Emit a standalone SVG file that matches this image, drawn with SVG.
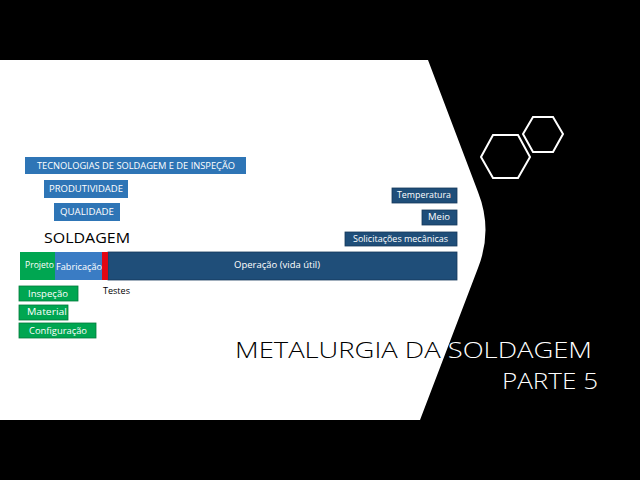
<svg xmlns="http://www.w3.org/2000/svg" width="640" height="480" viewBox="0 0 640 480">
<style>
.t{font-family:"Open Sans","Liberation Sans",Arial,sans-serif;font-size:9px;fill:#fff}
.lb{fill:#2E75B6}
.nv{fill:#1F4E79;stroke:#16395a;stroke-width:0.8}
.gr{fill:#00A651;stroke:#007a3a;stroke-width:0.8}
.hex{fill:none;stroke:#fff;stroke-width:2}
.title{font-family:"Open Sans","Liberation Sans",Arial,sans-serif;font-weight:300;font-size:22px}
</style>
<defs>
<clipPath id="cw"><path d="M0,60 L428,60 L478,192 Q493,230 478,268 L420,420 L0,420 Z"/></clipPath>
<clipPath id="cb"><path clip-rule="evenodd" d="M0,0 H640 V480 H0 Z M0,60 L428,60 L478,192 Q493,230 478,268 L420,420 L0,420 Z"/></clipPath>
</defs>
<rect x="0" y="0" width="640" height="480" fill="#000"/>
<path id="panel" d="M0,60 L428,60 L478,192 Q493,230 478,268 L420,420 L0,420 Z" fill="#fff"/>

<g id="hexagons">
<polygon class="hex" points="481,157 493,135 518,135 530,157 518,178 493,178"/>
<polygon class="hex" points="523,134 533,117 553,117 563,134 553,152 533,152"/>
</g>

<g id="tecnologias"><rect class="lb" x="25" y="157" width="221" height="17"/><text class="t" x="37" y="169" textLength="198" lengthAdjust="spacingAndGlyphs">TECNOLOGIAS DE SOLDAGEM E DE INSPEÇÃO</text></g>
<g id="produtividade"><rect class="lb" x="44" y="180" width="84" height="18"/><text class="t" x="49" y="192" textLength="74" lengthAdjust="spacingAndGlyphs">PRODUTIVIDADE</text></g>
<g id="qualidade"><rect class="lb" x="54" y="203" width="66" height="18"/><text class="t" x="60" y="215" textLength="54" lengthAdjust="spacingAndGlyphs">QUALIDADE</text></g>
<g id="soldagem"><text x="44" y="243" font-family="Open Sans,Liberation Sans,Arial,sans-serif" font-size="15" fill="#000" textLength="86" lengthAdjust="spacingAndGlyphs">SOLDAGEM</text></g>

<g id="operacao"><rect class="nv" x="108" y="252" width="349" height="28"/><text class="t" x="234" y="268" textLength="86" lengthAdjust="spacingAndGlyphs">Operação  (vida útil)</text></g>
<g id="projeto"><rect x="20" y="252" width="35" height="28" fill="#00A651"/><text class="t" x="25" y="268" textLength="29" lengthAdjust="spacingAndGlyphs">Projeto</text></g>
<g id="fabricacao"><rect x="55" y="252" width="47" height="28" fill="#3A7CC4"/><text class="t" x="56" y="270" textLength="46" lengthAdjust="spacingAndGlyphs">Fabricação</text></g>
<g id="testes-mark"><rect x="102" y="252" width="6" height="28" fill="#E30613"/></g>
<g id="testes"><text x="103" y="294" font-family="Open Sans,Liberation Sans,Arial,sans-serif" font-size="9" fill="#000" textLength="27" lengthAdjust="spacingAndGlyphs">Testes</text></g>

<g id="inspecao"><rect class="gr" x="19" y="286" width="59" height="15"/><text class="t" x="28" y="297" textLength="40" lengthAdjust="spacingAndGlyphs">Inspeção</text></g>
<g id="material"><rect class="gr" x="19" y="305" width="49" height="15"/><text class="t" x="27" y="315" textLength="40" lengthAdjust="spacingAndGlyphs">Material</text></g>
<g id="configuracao"><rect class="gr" x="19" y="323" width="77" height="15"/><text class="t" x="29" y="334" textLength="58" lengthAdjust="spacingAndGlyphs">Configuração</text></g>

<g id="temperatura"><rect class="nv" x="392" y="188" width="65" height="15"/><text class="t" x="397" y="198" textLength="54" lengthAdjust="spacingAndGlyphs">Temperatura</text></g>
<g id="meio"><rect class="nv" x="422" y="210" width="35" height="15"/><text class="t" x="428" y="220" textLength="22" lengthAdjust="spacingAndGlyphs">Meio</text></g>
<g id="solicitacoes"><rect class="nv" x="345" y="232" width="112" height="14"/><text class="t" x="353" y="242" textLength="95" lengthAdjust="spacingAndGlyphs">Solicitações mecânicas</text></g>

<g id="title">
<g clip-path="url(#cw)" fill="#000">
<text class="title" x="235" y="358" textLength="357" lengthAdjust="spacingAndGlyphs">METALURGIA DA SOLDAGEM</text>
<text class="title" x="502" y="389" textLength="96" lengthAdjust="spacingAndGlyphs">PARTE 5</text>
</g>
<g clip-path="url(#cb)" fill="#fff">
<text class="title" x="235" y="358" textLength="357" lengthAdjust="spacingAndGlyphs">METALURGIA DA SOLDAGEM</text>
<text class="title" x="502" y="389" textLength="96" lengthAdjust="spacingAndGlyphs">PARTE 5</text>
</g>
</g>
</svg>
